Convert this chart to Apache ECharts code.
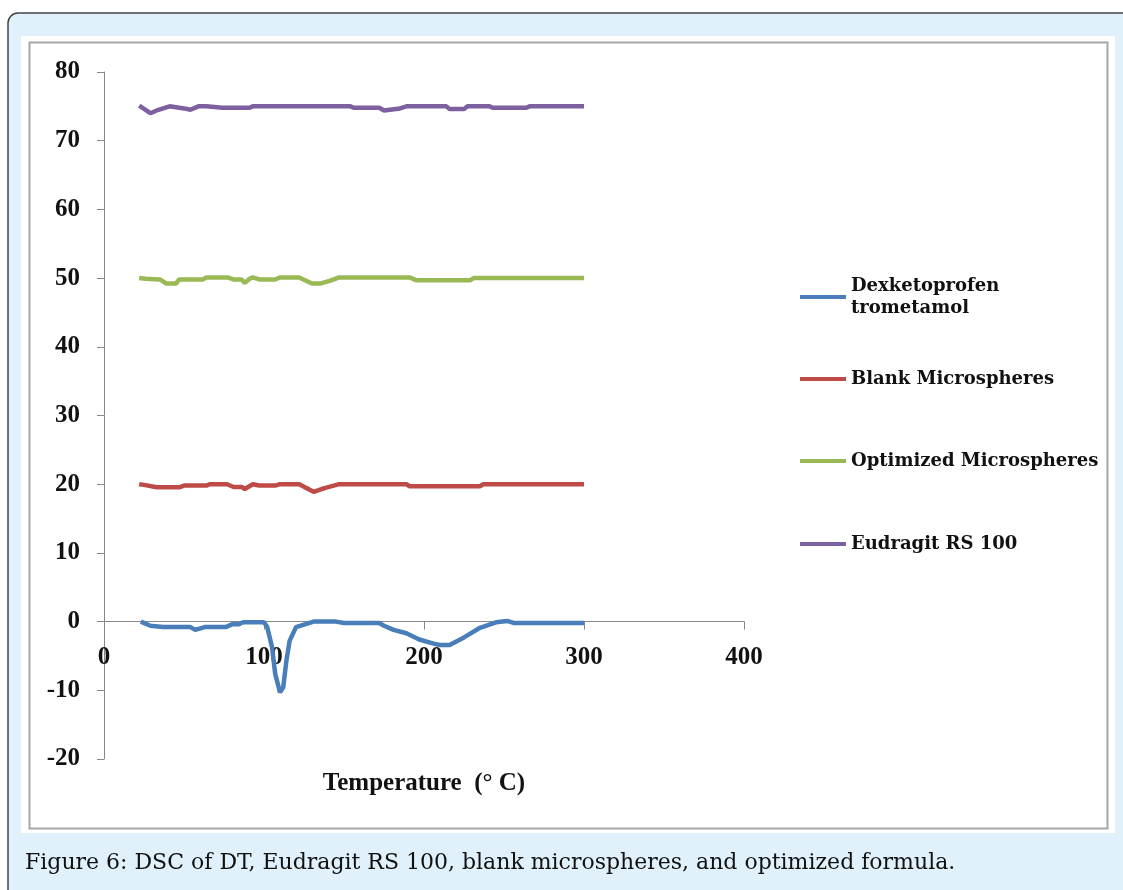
<!DOCTYPE html>
<html>
<head>
<meta charset="UTF-8">
<title>DSC</title>
<script src="https://cdn.jsdelivr.net/npm/echarts@6/dist/echarts.min.js"></script>
<style>
    body { margin: 0; padding: 0; background: #ffffff; }
    #main { width: 1123px; height: 890px; }
</style>
</head>
<body>
<div id="main"></div>
<script type="text/javascript">
// data: temperature (°C) and heat flow per curve
var tempDT   = [23, 29, 37, 54, 57, 63, 76, 80, 84, 87, 100, 102, 105, 107, 110, 112, 114, 116, 120, 127, 131, 145, 150, 172, 175, 181, 189, 197, 206, 210, 216, 225, 235, 245, 252, 256, 300];
var valDT    = [0, -0.6, -0.8, -0.8, -1.2, -0.8, -0.8, -0.4, -0.4, -0.1, -0.1, -0.8, -3.7, -7.6, -10.3, -9.6, -5.7, -2.8, -0.8, -0.3, 0, 0, -0.2, -0.2, -0.6, -1.2, -1.7, -2.6, -3.2, -3.4, -3.4, -2.3, -0.9, -0.1, 0.1, -0.2, -0.2];

var tempBlank = [22, 25, 33, 47, 50, 64, 66, 77, 81, 86, 88, 93, 97, 107, 110, 122, 131, 136, 139, 147, 189, 191, 235, 237, 300];
var valBlank  = [20, 19.9, 19.55, 19.55, 19.8, 19.8, 20, 20, 19.6, 19.6, 19.3, 20, 19.8, 19.8, 20, 20, 18.9, 19.3, 19.5, 20, 20, 19.7, 19.7, 20, 20];

var tempOpt = [22, 26, 35, 39, 45, 47, 62, 64, 77, 81, 86, 88, 91, 93, 97, 107, 110, 122, 130, 135, 141, 147, 191, 195, 229, 231, 300];
var valOpt  = [50, 49.9, 49.8, 49.2, 49.2, 49.8, 49.8, 50.1, 50.1, 49.8, 49.8, 49.3, 49.9, 50.1, 49.8, 49.8, 50.1, 50.1, 49.2, 49.2, 49.6, 50.1, 50.1, 49.7, 49.7, 50, 50];

var tempRS = [22, 29, 34, 41, 50, 54, 59, 64, 74, 91, 93, 154, 156, 172, 175, 185, 189, 214, 216, 225, 227, 241, 243, 264, 266, 300];
var valRS  = [75.1, 74.0, 74.5, 75.0, 74.7, 74.5, 75.0, 75.0, 74.8, 74.8, 75.0, 75.0, 74.8, 74.8, 74.4, 74.7, 75.0, 75.0, 74.6, 74.6, 75.0, 75.0, 74.8, 74.8, 75.0, 75.0];

var names = ['Dexketoprofen trometamol', 'Blank Microspheres', 'Optimized Microspheres', 'Eudragit RS 100'];
var colors = ['#4a7ebb', '#be4b48', '#98b954', '#7d60a0'];
var caption = 'Figure 6: DSC of DT, Eudragit RS 100, blank microspheres, and optimized formula.';

function pairs(xs, ys) {
    var out = [];
    for (var i = 0; i < xs.length; i++) {
        out.push([xs[i], ys[i]]);
    }
    return out;
}

var myChart = echarts.init(document.getElementById('main'));

var legendText = { fontFamily: 'DejaVu Serif', fontWeight: 'bold', fontSize: 18, color: '#111', lineHeight: 22 };
function legendAt(name, top, extra) {
    return {
        data: [name],
        orient: 'vertical',
        left: 800,
        top: top,
        padding: 0,
        icon: 'rect',
        itemWidth: 46,
        itemHeight: 4,
        selectedMode: false,
        textStyle: extra || legendText,
        formatter: function (n) { return n === names[0] ? 'Dexketoprofen\ntrometamol' : n; }
    };
}

var option = {
    animation: false,
    color: colors,
    graphic: [
        { type: 'rect', z: -100, shape: { x: 8, y: 13, width: 1140, height: 900, r: 10 },
          style: { fill: '#e0f1fb', stroke: '#444', lineWidth: 1.5 } },
        { type: 'rect', z: -99, shape: { x: 21, y: 36, width: 1094, height: 797 },
          style: { fill: '#ffffff' } },
        { type: 'rect', z: -98, shape: { x: 29.5, y: 42.5, width: 1078, height: 786 },
          style: { fill: '#ffffff', stroke: '#a6a6a6', lineWidth: 2 } },
        { type: 'text', z: 10, x: 25, y: 863,
          style: { text: caption, fontFamily: 'DejaVu Serif', fontSize: 22, fill: '#111', verticalAlign: 'middle' } }
    ],
    legend: [
        legendAt(names[0], 264, { fontFamily: 'DejaVu Serif', fontWeight: 'bold', fontSize: 18, color: '#111', lineHeight: 22, padding: [22, 0, 0, 0] }),
        legendAt(names[1], 368),
        legendAt(names[2], 450),
        legendAt(names[3], 533)
    ],
    grid: { left: 104, right: 379, top: 72, bottom: 131, outerBoundsMode: 'none', containLabel: false },
    xAxis: {
        type: 'value',
        min: 0,
        max: 400,
        interval: 100,
        name: 'Temperature  (° C)',
        nameLocation: 'middle',
        nameGap: 12,
        nameTextStyle: { fontFamily: 'Liberation Serif', fontWeight: 'bold', fontSize: 25, color: '#111' },
        axisLine: { onZero: true, lineStyle: { color: '#888', width: 1 } },
        axisTick: { show: true, inside: false, length: 8, lineStyle: { color: '#888' } },
        // labels sit under the zero line, not at the grid bottom
        axisLabel: { margin: -114, fontFamily: 'Liberation Serif', fontWeight: 'bold', fontSize: 25, color: '#111' },
        splitLine: { show: false }
    },
    yAxis: {
        type: 'value',
        min: -20,
        max: 80,
        interval: 10,
        axisLine: { show: true, lineStyle: { color: '#888', width: 1 } },
        axisTick: { show: true, inside: false, length: 7, lineStyle: { color: '#888' } },
        axisLabel: { margin: 24, fontFamily: 'Liberation Serif', fontWeight: 'bold', fontSize: 25, color: '#111' },
        splitLine: { show: false }
    },
    series: [
        { name: names[0], type: 'line', data: pairs(tempDT, valDT), showSymbol: false, lineStyle: { width: 4.5 } },
        { name: names[1], type: 'line', data: pairs(tempBlank, valBlank), showSymbol: false, lineStyle: { width: 4.5 } },
        { name: names[2], type: 'line', data: pairs(tempOpt, valOpt), showSymbol: false, lineStyle: { width: 4.5 } },
        { name: names[3], type: 'line', data: pairs(tempRS, valRS), showSymbol: false, lineStyle: { width: 4.5 } }
    ]
};

myChart.setOption(option);
</script>
</body>
</html>
